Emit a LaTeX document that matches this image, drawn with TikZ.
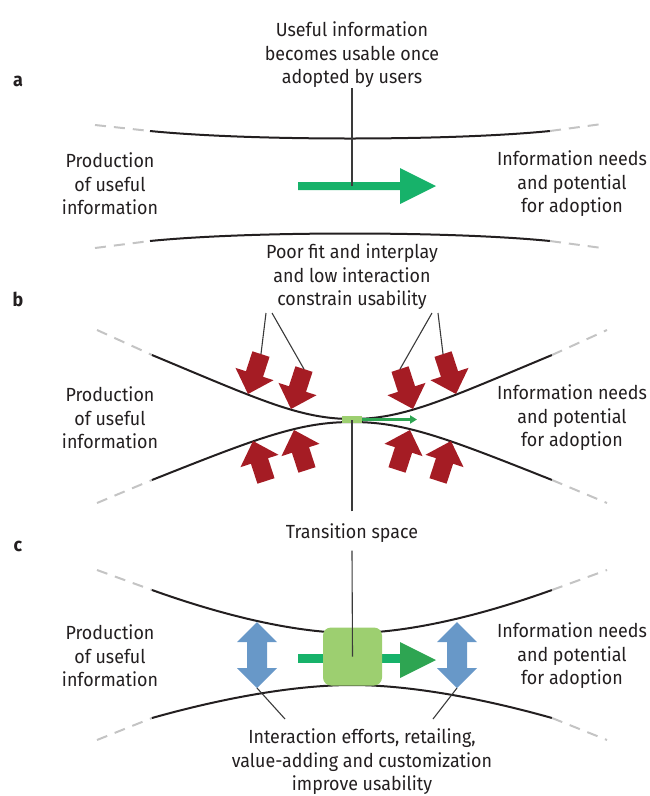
\documentclass[tikz,border=0pt]{standalone}
\usepackage{fontspec}
\setmainfont[FakeStretch=0.94]{Fira Sans}
\usetikzlibrary{arrows.meta}
\definecolor{ink}{HTML}{231F20}
\definecolor{dashgray}{HTML}{C4C4C4}
\definecolor{leadgray}{HTML}{3A3A3A}
\definecolor{pressred}{HTML}{A51C24}
\definecolor{liftblue}{HTML}{6898C8}
\definecolor{flowgreen}{HTML}{17B26A}
\definecolor{headgreen}{HTML}{2EA552}
\definecolor{boxgreen}{HTML}{9DCF70}
\begin{document}
\begin{tikzpicture}[x=1pt,y=-1pt,
  lbl/.style={font=\fontsize{19}{23.5}\selectfont, text=ink, align=center, inner sep=0pt},
  panel/.style={font=\fontsize{19}{23}\selectfont\bfseries, text=ink, inner sep=0pt},
  wall/.style={line width=2pt, draw=ink},
  fade/.style={line width=2pt, draw=dashgray, dash pattern=on 11pt off 8pt},
  lead/.style={line width=1.1pt, draw=leadgray},
  pics/press/.style={code={
    \fill[pressred] (0,0) -- (20,-21) -- (9,-21) -- (9,-42) -- (-9,-42)
      -- (-9,-21) -- (-20,-21) -- cycle;
    \coordinate (-tail) at (0,-42);
  }},
  pics/lift/.style={code={
    \fill[liftblue] (0,-33) -- (20,-13) -- (10,-13) -- (10,13) -- (20,13)
      -- (0,33) -- (-20,13) -- (-10,13) -- (-10,-13) -- (-20,-13) -- cycle;
    \coordinate (-foot) at (0,33);
  }}]
\useasboundingbox (0,0) rectangle (650,796);

% ---------------- panel a ----------------
\node[panel] (pa) at (18,81) {a};
\node[lbl] (atop) at (352,55) {Useful information\\becomes usable once\\adopted by users};
\node[lbl] (aleft) at (110,184) {Production\\of useful\\information};
\node[lbl] (aright) at (572,184) {Information needs\\and potential\\for adoption};

\draw[fade] (95,125) -- (150,131);
\draw[wall] (150,131) .. controls (250,141) and (450,141) .. (550,131);
\draw[fade] (550,131) -- (602,124);
\draw[fade] (95,248) -- (150,241);
\draw[wall] (150,241) .. controls (250,231) and (450,231) .. (550,241);
\draw[fade] (550,241) -- (602,248);

\fill[flowgreen] (298,182) -- (400,182) -- (400,168) -- (436,186) -- (400,204)
  -- (400,190) -- (298,190) -- cycle;
\coordinate (aflow) at (352,186);
\draw[lead] (atop.south) -- (aflow);

% ---------------- panel b ----------------
\node[panel] (pb) at (18,299) {b};
\node[lbl] (btop) at (352,277) {Poor fit and interplay\\and low interaction\\constrain usability};
\node[lbl] (bleft) at (110,418) {Production\\of useful\\information};
\node[lbl] (bright) at (572,418) {Information needs\\and potential\\for adoption};

\draw[fade] (97,330) -- (152,355);
\draw[wall] (152,355) .. controls (260,400) and (300,419) .. (352,419)
  .. controls (404,419) and (444,400) .. (552,355);
\draw[fade] (552,355) -- (607,330);
\draw[fade] (97,503) -- (152,480);
\draw[wall] (152,480) .. controls (260,437) and (300,422) .. (352,422)
  .. controls (404,422) and (444,437) .. (552,480);
\draw[fade] (552,480) -- (607,503);

\pic[rotate=-18] (A1) at (248,394) {press};
\pic[rotate=-18] (A2) at (291,409) {press};
\pic[rotate=18] (A3) at (413,409) {press};
\pic[rotate=18] (A4) at (456,394) {press};
\pic[rotate=198] (B1) at (253,441) {press};
\pic[rotate=198] (B2) at (294,430) {press};
\pic[rotate=162] (B3) at (410,430) {press};
\pic[rotate=162] (B4) at (451,441) {press};

\coordinate (bl1) at (266,313);
\coordinate (bl2) at (272,313);
\coordinate (br1) at (432,313);
\coordinate (br2) at (438,313);
\draw[lead] (bl1) -- (A1-tail);
\draw[lead] (bl2) -- (A2-tail);
\draw[lead] (br1) -- (A3-tail);
\draw[lead] (br2) -- (A4-tail);

\node[fill=boxgreen, minimum width=20pt, minimum height=7pt, inner sep=0pt] (bbox) at (352,419.5) {};
\draw[headgreen, line width=2.5pt, -{Triangle[length=7pt,width=8pt]}] (bbox.east) -- (417,419.5);

% ---------------- panel c ----------------
\node[panel] (pc) at (18,546) {c};
\node[lbl] (trans) at (352,533) {Transition space};
\node[lbl] (cleft) at (110,656) {Production\\of useful\\information};
\node[lbl] (cright) at (572,656) {Information needs\\and potential\\for adoption};
\node[lbl] (cbottom) at (362,762) {Interaction efforts, retailing,\\value-adding and customization\\improve usability};

\draw[fade] (97,570) -- (152,590);
\draw[wall] (152,590) .. controls (230,618) and (300,633) .. (352,633)
  .. controls (404,633) and (474,618) .. (552,590);
\draw[fade] (552,590) -- (607,570);
\draw[fade] (97,740) -- (152,718);
\draw[wall] (152,718) .. controls (230,696) and (300,685) .. (352,685)
  .. controls (404,685) and (474,696) .. (552,718);
\draw[fade] (552,718) -- (607,740);

\fill[flowgreen] (298,654) rectangle (330,663);
\fill[flowgreen] (376,654) rectangle (401,663);
\fill[headgreen] (400,642) -- (436,660) -- (400,678) -- cycle;
\node[fill=boxgreen, rounded corners=8pt, minimum width=59pt, minimum height=58pt, inner sep=0pt] (cbox) at (352.5,656.5) {};

\pic (L1) at (257,655) {lift};
\pic (L2) at (457,655) {lift};
\coordinate (cl) at (285,719);
\coordinate (cr) at (433,719);
\draw[lead] (L1-foot) -- (cl);
\draw[lead] (L2-foot) -- (cr);

% shared leader of the transition label
\coordinate (bmid) at (352,420);
\draw[lead] ([yshift=12pt]trans.north) -- (bmid);
\draw[lead] ([yshift=-8pt]trans.south) -- (cbox.center);
\end{tikzpicture}
\end{document}
